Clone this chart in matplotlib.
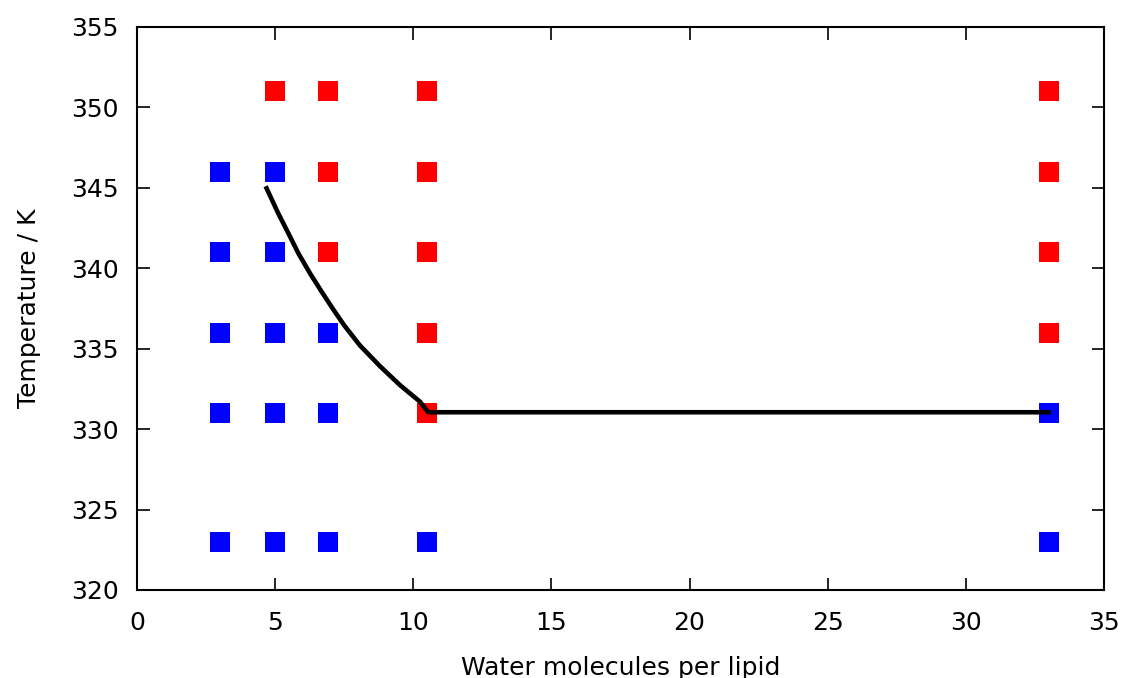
import matplotlib
matplotlib.use("Agg")
import matplotlib.pyplot as plt

# Phase diagram: water per lipid vs temperature
blue_x = [3, 3, 3, 3, 3, 5, 5, 5, 5, 5, 6.9, 6.9, 6.9, 10.5, 33, 33]
blue_y = [346, 341, 336, 331, 323, 346, 341, 336, 331, 323, 336, 331, 323, 323, 331, 323]

red_x = [5, 6.9, 6.9, 6.9, 10.5, 10.5, 10.5, 10.5, 10.5, 33, 33, 33, 33]
red_y = [351, 351, 346, 341, 351, 346, 341, 336, 331, 351, 346, 341, 336]

# boundary line
line_x = [4.69, 5.11, 5.48, 5.84, 6.26, 6.68, 7.10, 7.50, 8.07, 8.79, 9.51, 10.24, 10.54, 33]
line_y = [344.97, 343.42, 342.17, 340.93, 339.69, 338.55, 337.45, 336.45, 335.2,
          333.92, 332.75, 331.71, 331.05, 331.05]

fig = plt.figure(figsize=(11.25, 6.78), dpi=100)
ax = fig.add_axes([0.1218, 0.1298, 0.8595, 0.8304])

ax.plot(blue_x, blue_y, 's', color='#0000ff', markersize=15, markeredgewidth=0)
ax.plot(red_x, red_y, 's', color='#ff0000', markersize=15, markeredgewidth=0)
ax.plot(line_x, line_y, '-', color='black', linewidth=3.3, solid_joinstyle='round')

ax.set_xlim(0, 35)
ax.set_ylim(320, 355)
ax.set_xticks(range(0, 36, 5))
ax.set_yticks(range(320, 356, 5))
ax.tick_params(direction='in', length=9, width=1.2, top=True, right=True,
               labelsize=18)
ax.tick_params(axis='x', pad=15)
ax.tick_params(axis='y', pad=13)
for s in ax.spines.values():
    s.set_linewidth(1.5)

ax.set_xlabel('Water molecules per lipid', fontsize=18, labelpad=15)
ax.set_ylabel('Temperature / K', fontsize=18, labelpad=22)

fig.savefig('out.png', dpi=100)
